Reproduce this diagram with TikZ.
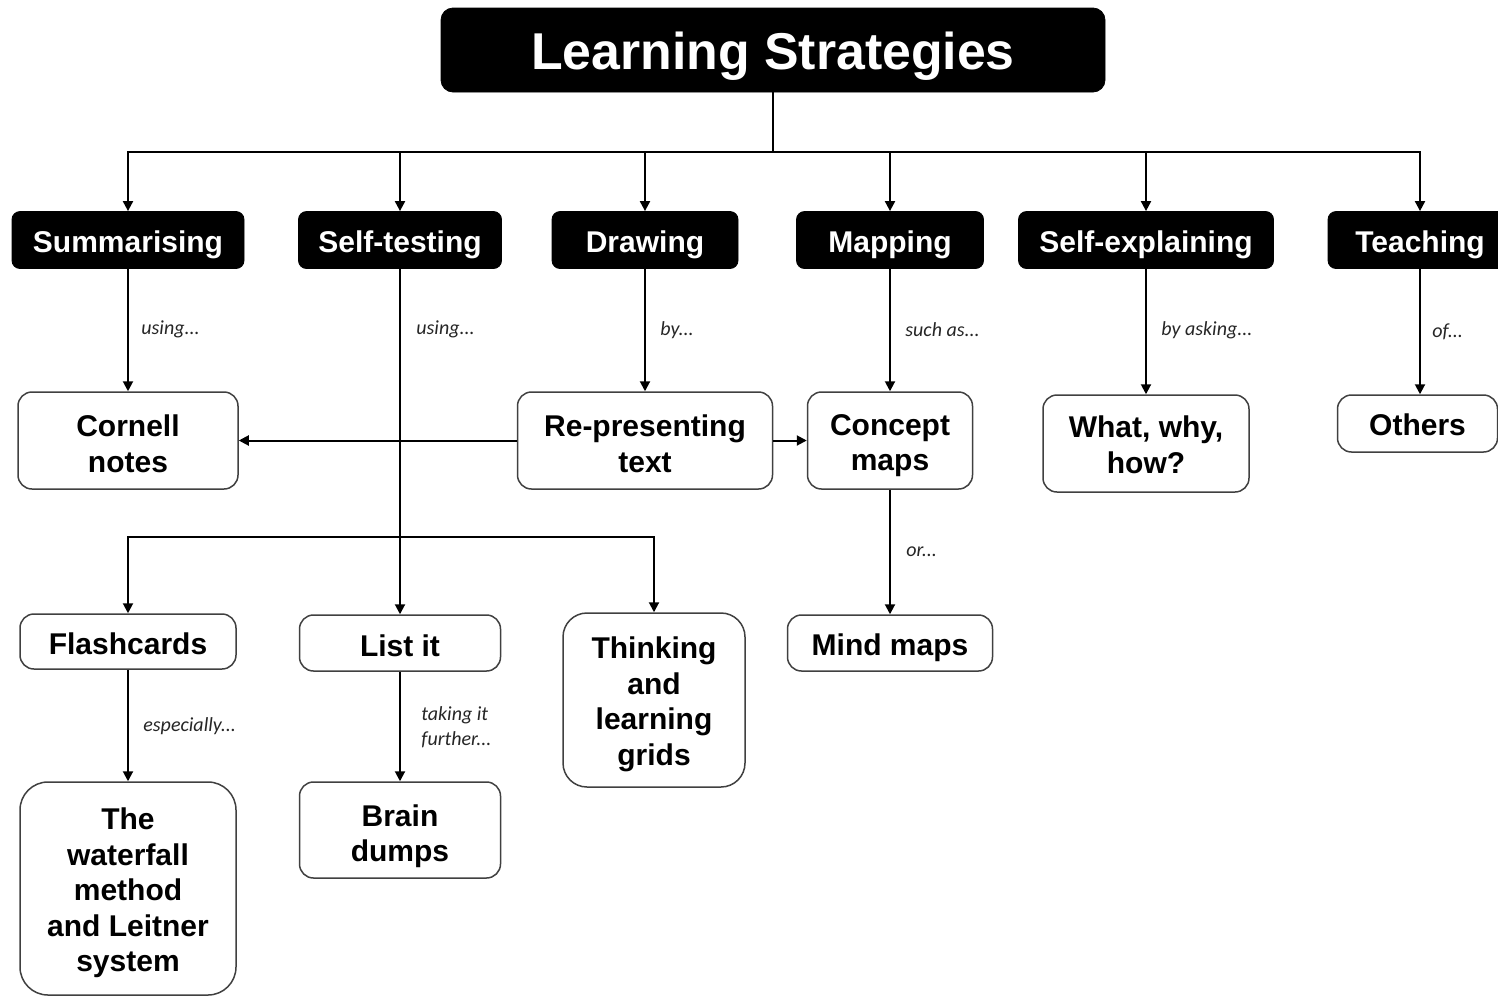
\documentclass[tikz,border=0pt]{standalone}
\usepackage{fontspec}
\setmainfont{Liberation Sans}
\newfontfamily\lblfam{Carlito}
\usetikzlibrary{arrows.meta}
\begin{document}
\begin{tikzpicture}[x=0.5pt,y=-0.5pt,
  hdr/.style={fill=black,draw=black,rounded corners=4pt,minimum height=28.5pt,inner sep=0pt},
  hdrtxt/.style={text=white,font=\fontsize{15}{18}\selectfont\bfseries,inner sep=0pt},
  wbox/.style={draw=black!75,line width=0.75pt,rounded corners=7pt,fill=white,inner sep=0pt},
  wtxt/.style={font=\fontsize{15}{17.8}\selectfont\bfseries,align=center,inner sep=0pt},
  lbl/.style={font=\lblfam\itshape\fontsize{10}{12.5}\selectfont,text=black!85,anchor=west,inner sep=0pt,align=left},
  conn/.style={line width=1pt,draw=black},
  arr/.style={conn,-{Triangle[length=5pt,width=5pt]}}]
\useasboundingbox (0,0) rectangle (1498,997);
% title
\node[fill=black,draw=black,rounded corners=6pt,minimum width=332pt,minimum height=42pt,inner sep=0pt] (title) at (773,50) {};
\node[text=white,font=\fontsize{25.9}{30}\selectfont\bfseries,inner sep=0pt,yshift=-3pt] (title-t) at (title) {Learning Strategies};
% headers
\node[hdr,minimum width=116pt] (h1) at (128,240) {};
\node[hdr,minimum width=101.5pt] (h2) at (400,240) {};
\node[hdr,minimum width=93pt] (h3) at (645,240) {};
\node[hdr,minimum width=93.5pt] (h4) at (890,240) {};
\node[hdr,minimum width=127.5pt] (h5) at (1146,240) {};
\node[hdr,minimum width=92pt] (h6) at (1420,240) {};
\node[hdrtxt,yshift=-2.5pt] (h1-t) at (h1) {Summarising};
\node[hdrtxt,yshift=-2.5pt] (h2-t) at (h2) {Self-testing};
\node[hdrtxt,yshift=-2.5pt] (h3-t) at (h3) {Drawing};
\node[hdrtxt,yshift=-2.5pt] (h4-t) at (h4) {Mapping};
\node[hdrtxt,yshift=-2.5pt] (h5-t) at (h5) {Self-explaining};
\node[hdrtxt,yshift=-2.5pt] (h6-t) at (h6) {Teaching};
% row 1 boxes
\node[wbox,minimum width=110pt,minimum height=48.5pt] (cornell) at (128,440.5) {};
\node[wbox,minimum width=127.5pt,minimum height=48.5pt] (repr) at (645,440.5) {};
\node[wbox,minimum width=82.5pt,minimum height=48.5pt] (concept) at (890,440.5) {};
\node[wbox,minimum width=103pt,minimum height=48.5pt] (what) at (1146,443.5) {};
\node[wbox,minimum width=80pt,minimum height=28.5pt] (others) at (1417.5,423.5) {};
\node[wtxt,yshift=-1.5pt] (cornell-t) at (cornell) {Cornell\\notes};
\node[wtxt,yshift=-1.5pt] (repr-t) at (repr) {Re-presenting\\text};
\node[wtxt,yshift=-2.5pt] (concept-t) at (concept) {Concept\\maps};
\node[wtxt,yshift=-0.7pt] (what-t) at (what) {What, why,\\how?};
\node[wtxt,yshift=-0.5pt] (others-t) at (others) {Others};
% row 2 boxes
\node[wbox,minimum width=108pt,minimum height=27.5pt] (flash) at (128,641.5) {};
\node[wbox,minimum width=100.5pt,minimum height=28pt] (listit) at (400,643) {};
\node[wbox,rounded corners=12pt,minimum width=91pt,minimum height=87pt] (think) at (654,700) {};
\node[wbox,minimum width=102.5pt,minimum height=28pt] (mind) at (890,643) {};
\node[wtxt,yshift=-1pt] (flash-t) at (flash) {Flashcards};
\node[wtxt,yshift=-1.5pt] (listit-t) at (listit) {List it};
\node[wtxt,yshift=-2.2pt] (think-t) at (think) {Thinking\\and\\learning\\grids};
\node[wtxt,yshift=-2.5pt] (mind-t) at (mind) {Mind maps};
% row 3 boxes
\node[wbox,rounded corners=14pt,minimum width=108pt,minimum height=106.5pt] (water) at (128,888.5) {};
\node[wbox,minimum width=100.5pt,minimum height=48pt] (brain) at (400,830) {};
\node[wtxt,yshift=-2.2pt] (water-t) at (water) {The\\waterfall\\method\\and Leitner\\system};
\node[wtxt,yshift=-3.2pt] (brain-t) at (brain) {Brain\\dumps};
% trunk
\coordinate (tj) at (773,152);
\draw[conn] (title.south) -- (tj);
\foreach \h in {h1,h2,h3,h4,h5,h6} \draw[arr] (tj) -| (\h.north);
% header to boxes
\draw[arr] (h1.south) -- (cornell.north);
\draw[arr] (h3.south) -- (repr.north);
\draw[arr] (h4.south) -- (concept.north);
\draw[arr] (h5.south) -- (h5.south |- what.north);
\draw[arr] (h6.south) -- (h6.south |- others.north);
% self-testing branch
\coordinate (sj) at (400,537);
\draw[conn] (h2.south) -- (sj);
\draw[arr] (sj) -- (listit.north);
\draw[arr] (sj) -| (flash.north);
\draw[arr] (sj) -| (think.north);
% cross links
\draw[arr] (repr.west) -- (cornell.east);
\draw[arr] (repr.east) -- (concept.west);
\draw[arr] (concept.south) -- (mind.north);
\draw[arr] (flash.south) -- (water.north);
\draw[arr] (listit.south) -- (brain.north);
% labels
\node[lbl] (l1) at (141,329) {using...};
\node[lbl] (l2) at (416,329) {using...};
\node[lbl] (l3) at (660,330) {by...};
\node[lbl] (l4) at (905,330) {such as...};
\node[lbl] (l5) at (1161,330) {by asking...};
\node[lbl] (l6) at (1432,332) {of...};
\node[lbl] (l7) at (906,552) {or...};
\node[lbl] (l8) at (143,726) {especially...};
\node[lbl] (l9) at (421,727) {taking it\\further...};
\end{tikzpicture}
\end{document}
